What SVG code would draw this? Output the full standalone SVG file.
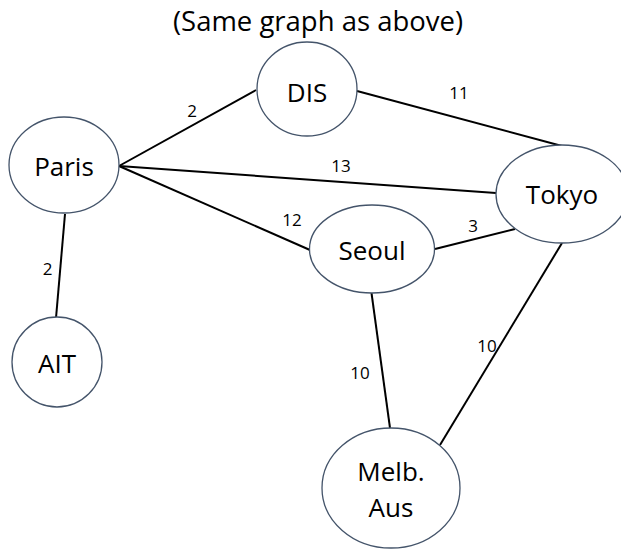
<svg xmlns="http://www.w3.org/2000/svg" width="621" height="550" viewBox="0 0 621 550">
  <style>
    .node ellipse { fill: #ffffff; stroke: #44546a; stroke-width: 1.3; }
    .node text { font-family: "Open Sans", "Liberation Sans", sans-serif; font-size: 26px; fill: #000; text-anchor: middle; }
    .edges line { stroke: #000; stroke-width: 2; }
    .weight { font-family: "Open Sans", "Liberation Sans", sans-serif; font-size: 17px; fill: #000; text-anchor: middle; }
    .title { font-family: "Open Sans", "Liberation Sans", sans-serif; font-size: 27px; fill: #000; text-anchor: middle; }
  </style>
  <rect width="621" height="550" fill="#ffffff"/>
  <text class="title" x="318" y="31" textLength="290" lengthAdjust="spacingAndGlyphs">(Same graph as above)</text>

  <g id="connectors" class="edges">
    <line x1="119" y1="166" x2="256" y2="90"/>
    <line x1="357" y1="91" x2="562" y2="146"/>
    <line x1="119" y1="166" x2="496" y2="193"/>
    <line x1="119" y1="166" x2="310" y2="250"/>
    <line x1="435" y1="249" x2="515" y2="229"/>
    <line x1="65" y1="214" x2="56" y2="318"/>
    <line x1="371.5" y1="293" x2="390" y2="428"/>
    <line x1="562" y1="243" x2="440" y2="445"/>
    <text class="weight" x="192" y="117">2</text>
    <text class="weight" x="459" y="99">11</text>
    <text class="weight" x="341" y="172">13</text>
    <text class="weight" x="292" y="226">12</text>
    <text class="weight" x="473" y="232">3</text>
    <text class="weight" x="47.5" y="275">2</text>
    <text class="weight" x="360" y="379">10</text>
    <text class="weight" x="487" y="352">10</text>
  </g>

  <g id="node-dis" class="node">
    <ellipse cx="307" cy="89" rx="50" ry="47"/>
    <text x="307" y="102">DIS</text>
  </g>
  <g id="node-paris" class="node">
    <ellipse cx="64" cy="165" rx="55" ry="48"/>
    <text x="64" y="176">Paris</text>
  </g>
  <g id="node-tokyo" class="node">
    <ellipse cx="562" cy="194" rx="66" ry="49"/>
    <text x="562" y="204">Tokyo</text>
  </g>
  <g id="node-seoul" class="node">
    <ellipse cx="372" cy="249" rx="62.5" ry="44"/>
    <text x="372" y="260">Seoul</text>
  </g>
  <g id="node-ait" class="node">
    <ellipse cx="57" cy="362" rx="45" ry="45"/>
    <text x="57" y="373">AIT</text>
  </g>
  <g id="node-melb" class="node">
    <ellipse cx="391" cy="488" rx="69" ry="60"/>
    <text x="391" y="481">Melb.</text>
    <text x="391" y="517">Aus</text>
  </g>
</svg>
